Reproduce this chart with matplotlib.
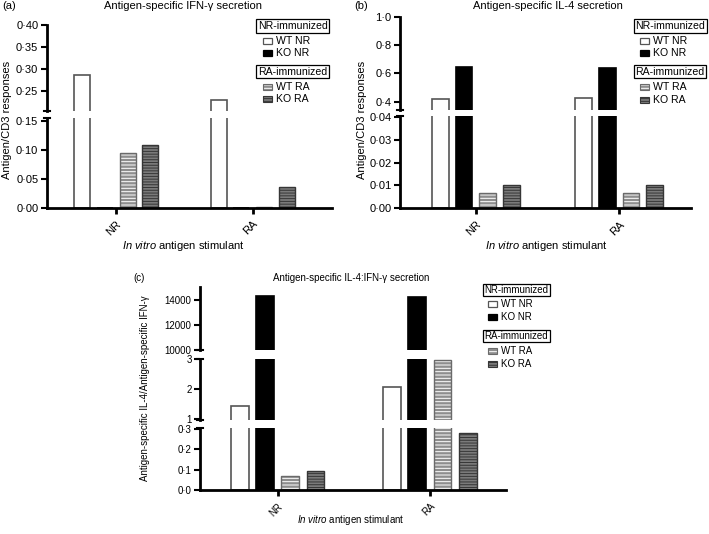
import matplotlib
matplotlib.use('Agg')
import matplotlib.pyplot as plt
from matplotlib.patches import Rectangle
import numpy as np

plt.rcParams['font.family'] = ['Liberation Sans', 'DejaVu Sans']
plt.rcParams['hatch.linewidth'] = 0.7
plt.rcParams['mathtext.fontset'] = 'custom'
plt.rcParams['mathtext.it'] = 'Liberation Sans:italic'
plt.rcParams['mathtext.rm'] = 'Liberation Sans'

# data
groups = ['NR', 'RA']
series = ['WT NR', 'KO NR', 'WT RA', 'KO RA']

# (a) IFN-gamma
a_wt_nr = [0.287, 0.230]
a_ko_nr = [0.0, 0.0]
a_wt_ra = [0.094, 0.001]
a_ko_ra = [0.108, 0.035]

# (b) IL-4
b_wt_nr = [0.415, 0.425]
b_ko_nr = [0.645, 0.642]
b_wt_ra = [0.0068, 0.0068]
b_ko_ra = [0.0102, 0.0102]

# (c) IL-4 : IFN-gamma ratio
c_wt_nr = [1.43, 2.06]
c_ko_nr = [14300, 14200]
c_wt_ra = [0.068, 2.97]
c_ko_ra = [0.092, 0.282]

W, H = 709, 534
fig = plt.figure(figsize=(W / 100, H / 100), dpi=100)

# bar styles: (face, hatch, hatch colour, edge)
styles = [('white', None, None, '#555555'),
          ('black', None, None, 'black'),
          ('#8e8e8e', '-----', 'white', '#6a6a6a'),
          ('#7a7a7a', '------', '#363636', '#363636')]
offsets = np.array([-1.5, -0.5, 0.5, 1.5]) * 0.166
bw = 0.117


def add_ax(x0, x1, ytop, ybot):
    return fig.add_axes([x0 / W, 1 - ybot / H, (x1 - x0) / W, (ybot - ytop) / H])


def draw_bars(ax, data):
    x = np.arange(len(groups))
    for i, vals in enumerate(data):
        face, hatch, hcol, edge = styles[i]
        if hatch:
            ax.bar(x + offsets[i], vals, bw, color=face, edgecolor=hcol, hatch=hatch, linewidth=0)
            ax.bar(x + offsets[i], vals, bw, fill=False, edgecolor=edge, linewidth=1.0)
        else:
            ax.bar(x + offsets[i], vals, bw, color=face, edgecolor=edge, linewidth=1.2)


def style_ax(ax, ylim, ticks, labels, xlim, bottom=False, fs=8, caps=('bottom',)):
    ax.set_ylim(*ylim)
    ax.set_xlim(*xlim)
    ax.set_yticks(ticks)
    ax.set_yticklabels(labels, fontsize=fs)
    for s in ['top', 'right']:
        ax.spines[s].set_visible(False)
    ax.spines['left'].set_linewidth(2)
    ax.tick_params(axis='y', direction='out', length=4, width=1.5, pad=2)
    if bottom:
        ax.spines['bottom'].set_linewidth(2)
        ax.set_xticks([0, 1])
        ax.set_xticklabels(groups, fontsize=fs, rotation=45, ha='right', va='top', rotation_mode='anchor')
        ax.tick_params(axis='x', direction='out', length=4, width=2, pad=4)
    else:
        ax.spines['bottom'].set_visible(False)
        ax.set_xticks([])
    bb = ax.get_position()
    d = 3.0 / (bb.width * W)
    for c in caps:
        yy = 0 if c == 'bottom' else 1
        ax.plot([-d, d], [yy, yy], transform=ax.transAxes, color='black', lw=1.5, clip_on=False)


def legend(xh, ys, xp, fs=7.6):
    hdrs = ['NR-immunized', 'RA-immunized']
    fig.text(xh / W, 1 - ys[0] / H, hdrs[0], fontsize=fs, va='center', ha='left',
             bbox=dict(boxstyle='square,pad=0.15', fc='white', ec='black', lw=0.9))
    fig.text(xh / W, 1 - ys[3] / H, hdrs[1], fontsize=fs, va='center', ha='left',
             bbox=dict(boxstyle='square,pad=0.15', fc='white', ec='black', lw=0.9))
    item_y = [ys[1], ys[2], ys[4], ys[5]]
    for i, name in enumerate(series):
        face, hatch, hcol, edge = styles[i]
        y = item_y[i]
        r = Rectangle((xp / W, 1 - (y + 3) / H), 9 / W, 6 / H, transform=fig.transFigure,
                      facecolor=face, edgecolor=hcol if hatch else edge, hatch=hatch,
                      linewidth=0 if hatch else 0.9)
        fig.patches.append(r)
        if hatch:
            fig.patches.append(Rectangle((xp / W, 1 - (y + 3) / H), 9 / W, 6 / H,
                                         transform=fig.transFigure, fill=False,
                                         edgecolor=edge, linewidth=0.8))
        fig.text((xp + 13) / W, 1 - y / H, name, fontsize=fs, va='center', ha='left')


xlab = r'$\mathit{In\ vitro}$ antigen stimulant'

# ---------- panel (a) ----------
a_data = [a_wt_nr, a_ko_nr, a_wt_ra, a_ko_ra]
xl_a = (-0.51, 1.58)
ax_a1 = add_ax(46.7, 331.7, 25, 111)
ax_a2 = add_ax(46.7, 331.7, 118, 207.7)
draw_bars(ax_a1, a_data)
draw_bars(ax_a2, a_data)
style_ax(ax_a1, (0.205, 0.40), [0.25, 0.30, 0.35, 0.40], ['0·25', '0·30', '0·35', '0·40'], xl_a)
style_ax(ax_a2, (0, 0.155), [0, 0.05, 0.10, 0.15], ['0·00', '0·05', '0·10', '0·15'], xl_a,
         bottom=True, caps=('top',))
fig.text(2 / W, 1 - 6 / H, '(a)', fontsize=8, va='center')
fig.text(183.5 / W, 1 - 6 / H, 'Antigen-specific IFN-γ secretion', fontsize=8, ha='center', va='center')
fig.text(7 / W, 1 - 120 / H, 'Antigen/CD3 responses', fontsize=8, rotation=90, ha='center', va='center')
fig.text(183 / W, 1 - 246 / H, xlab, fontsize=8, ha='center', va='center')
legend(258, [26, 40.7, 52.7, 71.7, 87.3, 99.3], 263)

# ---------- panel (b) ----------
b_data = [b_wt_nr, b_ko_nr, b_wt_ra, b_ko_ra]
xl_b = (-0.53, 1.5)
ax_b1 = add_ax(400, 690.7, 17.3, 110)
ax_b2 = add_ax(400, 690.7, 115.6, 208.3)
draw_bars(ax_b1, b_data)
draw_bars(ax_b2, b_data)
style_ax(ax_b1, (0.34, 1.0), [0.4, 0.6, 0.8, 1.0], ['0·4', '0·6', '0·8', '1·0'], xl_b)
style_ax(ax_b2, (0, 0.0405), [0, 0.01, 0.02, 0.03, 0.04], ['0·00', '0·01', '0·02', '0·03', '0·04'],
         xl_b, bottom=True, caps=('top',))
fig.text(354 / W, 1 - 6 / H, '(b)', fontsize=8, va='center')
fig.text(547.5 / W, 1 - 6 / H, 'Antigen-specific IL-4 secretion', fontsize=8, ha='center', va='center')
fig.text(362 / W, 1 - 120 / H, 'Antigen/CD3 responses', fontsize=8, rotation=90, ha='center', va='center')
fig.text(546.7 / W, 1 - 246 / H, xlab, fontsize=8, ha='center', va='center')
legend(635.5, [26, 40.7, 52.7, 71.7, 87.3, 100], 640)

# ---------- panel (c) ----------
c_data = [c_wt_nr, c_ko_nr, c_wt_ra, c_ko_ra]
xl_c = (-0.51, 1.5)
ax_c1 = add_ax(200, 506, 287, 350)
ax_c2 = add_ax(200, 506, 359, 420.2)
ax_c3 = add_ax(200, 506, 428, 490)
for ax in (ax_c1, ax_c2, ax_c3):
    draw_bars(ax, c_data)
style_ax(ax_c1, (10000, 15000), [10000, 12000, 14000], ['10000', '12000', '14000'], xl_c, fs=7)
style_ax(ax_c2, (0.97, 3.0), [1, 2, 3], ['1', '2', '3'], xl_c, fs=7, caps=('top', 'bottom'))
style_ax(ax_c3, (0, 0.305), [0, 0.1, 0.2, 0.3], ['0·0', '0·1', '0·2', '0·3'], xl_c,
         bottom=True, fs=7, caps=('top',))
fig.text(133 / W, 1 - 277.7 / H, '(c)', fontsize=7, va='center')
fig.text(351 / W, 1 - 277.7 / H, 'Antigen-specific IL-4:IFN-γ secretion', fontsize=7, ha='center', va='center')
fig.text(145 / W, 1 - 388 / H, 'Antigen-specific IL-4/Antigen-specific IFN-γ', fontsize=7,
         rotation=90, ha='center', va='center')
fig.text(351 / W, 1 - 520 / H, xlab, fontsize=7, ha='center', va='center')
legend(484.5, [290, 304.3, 317.3, 336, 351, 364.3], 488, fs=7)

fig.savefig('out.png', dpi=100)
